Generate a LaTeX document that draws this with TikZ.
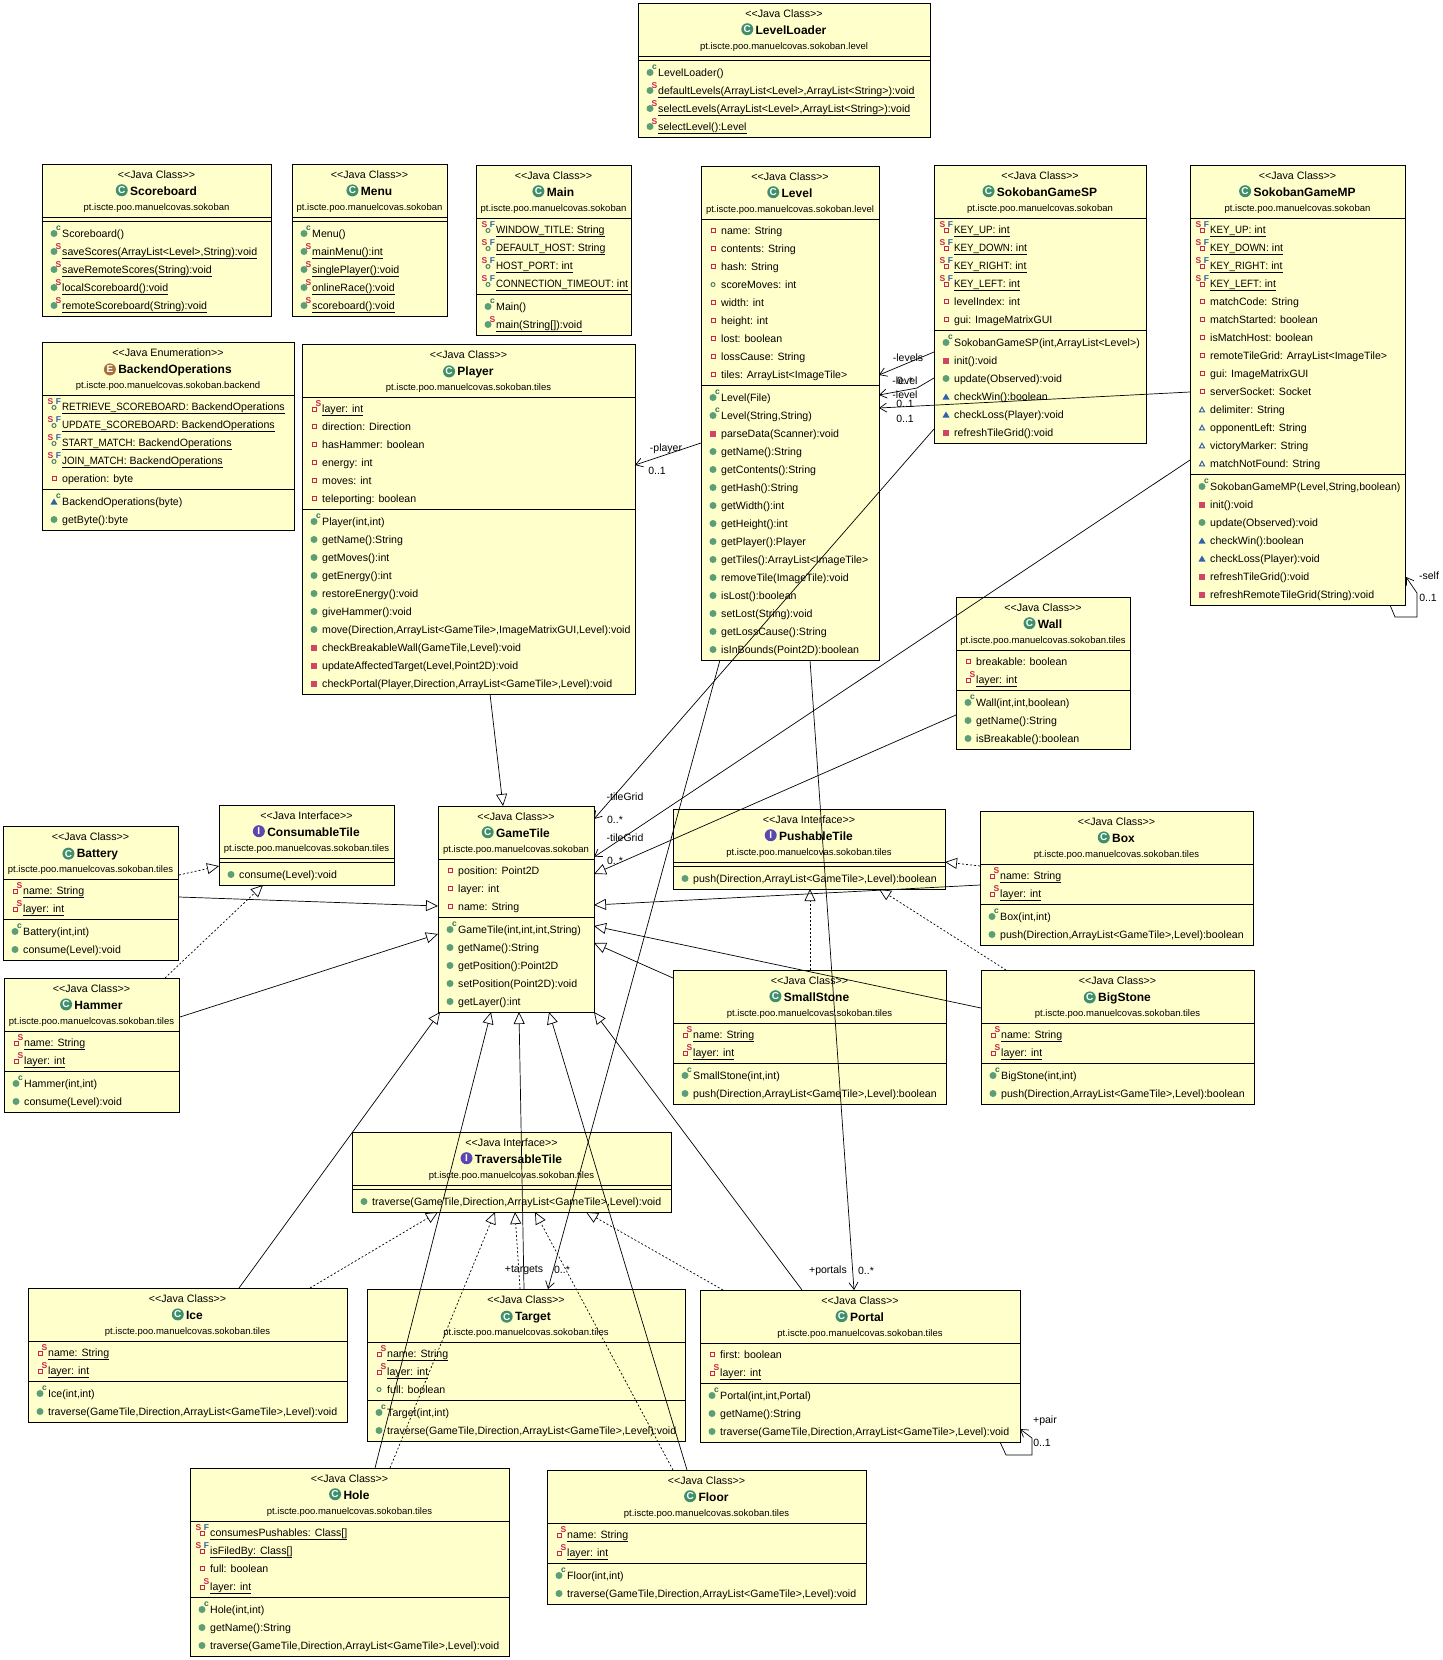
\documentclass[tikz,border=0pt]{standalone}
\usepackage{fontspec}
\setmainfont{Liberation Sans}
\usetikzlibrary{positioning,arrows.meta}

\definecolor{umlyellow}{HTML}{FFFFCC}
\definecolor{pubgreen}{HTML}{5C9E78}
\definecolor{privred}{HTML}{C8254C}
\definecolor{protblue}{HTML}{2F62A8}
\definecolor{classgreen}{HTML}{3F8F6C}
\definecolor{ifacepurple}{HTML}{5A48B0}
\definecolor{enumbrown}{HTML}{A86F3E}

\tikzset{
  classbox/.style={draw=black, fill=umlyellow, line width=0.9pt, anchor=north west, inner sep=0pt, outer sep=0pt},
  stereotext/.style={anchor=base, inner sep=0pt, font=\fontsize{10.7}{12}\selectfont},
  titletext/.style={anchor=base, inner sep=0pt, font=\bfseries\fontsize{12}{14}\selectfont},
  pkgtext/.style={anchor=base, inner sep=0pt, font=\fontsize{9.5}{11}\selectfont},
  rowtext/.style={anchor=base west, inner sep=0pt, font=\fontsize{10.6}{13}\selectfont},
  typeicon/.style={circle, inner sep=0pt, minimum size=12pt, text=white, font=\bfseries\fontsize{10}{10}\selectfont},
  supmark/.style={inner sep=0pt, font=\bfseries\fontsize{8.5}{9}\selectfont},
  edgelabel/.style={inner sep=0pt, font=\fontsize{10.5}{12}\selectfont},
  extends/.style={line width=0.7pt, -{Triangle[open,length=12pt,width=11pt]}},
  implements/.style={line width=0.7pt, dash pattern=on 2pt off 2pt, -{Triangle[open,length=12pt,width=11pt]}},
  assoc/.style={line width=0.7pt, -{Straight Barb[length=7pt,width=9pt]}},
}

% text of static members is underlined
\newcommand{\rowfmt}[1]{#1}
\newcommand{\ultext}[1]{\setbox0\hbox{#1}\rlap{\raisebox{-3pt}{\rule{\wd0}{0.8pt}}}\box0}
% constants are set a bit narrower
\newcommand{\capsname}[1]{{\addfontfeature{FakeStretch=0.92}#1}}

% one mark per member kind, drawn round (12,0) of the row
\newcommand{\markpm}{\fill[pubgreen] (12,0.5) circle[radius=3.5pt];}
\newcommand{\markcm}{\markpm\node[supmark,text=classgreen!80!black] (\rowid-c) at (16.5,-4.5) {c};}
\newcommand{\marksm}{\markpm\node[supmark,text=privred] (\rowid-s) at (16.5,-4.5) {S};\let\rowfmt\ultext}
\newcommand{\markxm}{\fill[privred!85!white] (9,-2.5) rectangle (15,3.5);}
\newcommand{\markhm}{\fill[protblue] (8.5,3.5) -- (15.5,3.5) -- (12,-2.5) -- cycle;}
\newcommand{\marktc}{\markhm\node[supmark,text=classgreen!80!black] (\rowid-c) at (16.5,-4.5) {c};}
\newcommand{\markpf}{\draw[pubgreen!80!black,line width=1pt] (12,0.5) circle[radius=2pt];}
\newcommand{\markxf}{\draw[privred,line width=1pt] (10,-1.5) rectangle (14,2.5);}
\newcommand{\markdf}{\draw[protblue,line width=1pt] (9.5,2.8) -- (14.5,2.8) -- (12,-1.8) -- cycle;}
\newcommand{\marksf}{\draw[privred,line width=1pt] (10,-0.5) rectangle (14,3.5);\node[supmark,text=privred] (\rowid-s) at (16.5,-4.5) {S};\let\rowfmt\ultext}
\newcommand{\markff}{\draw[pubgreen!80!black,line width=1pt] (12,1.5) circle[radius=2pt];\node[supmark,text=privred] (\rowid-s) at (8.5,-4.5) {S};\node[supmark,text=protblue] (\rowid-f) at (16.5,-4.5) {F};\let\rowfmt\ultext}
\newcommand{\markkf}{\draw[privred,line width=1pt] (10,-0.5) rectangle (14,3.5);\node[supmark,text=privred] (\rowid-s) at (8.5,-4.5) {S};\node[supmark,text=protblue] (\rowid-f) at (16.5,-4.5) {F};\let\rowfmt\ultext}

% name, left, top, right, number of fields, number of methods
\newcommand{\umlbox}[6]{%
  \pgfmathsetlengthmacro{\boxw}{(#4-#2)*1pt}
  \pgfmathsetlengthmacro{\boxh}{(62+18*#5+18*#6)*1pt}
  \pgfmathsetmacro{\lineb}{57+18*#5}
  \node[classbox, minimum width=\boxw, minimum height=\boxh] (#1) at (#2,#3) {};
  \draw[line width=0.9pt] ([shift={(0,53)}]#1.north west) -- ([shift={(0,53)}]#1.north east);
  \draw[line width=0.9pt] ([shift={(0,\lineb)}]#1.north west) -- ([shift={(0,\lineb)}]#1.north east);
}
% name, stereotype, icon letter, icon colour, class name, package
\newcommand{\umlhead}[6]{%
  \node[stereotext] (#1-stereo) at ([shift={(0,14.5)}]#1.north) {<{}<Java #2>{}>};
  \node[titletext] (#1-title) at ([shift={(7,31)}]#1.north) {#5};
  \node[typeicon, fill=#4, left=2pt of #1-title.west, yshift=0.5pt] (#1-icon) {#3};
  \node[pkgtext] (#1-pkg) at ([shift={(0,46.5)}]#1.north) {#6};
}
% name, first row below the top, list of kind/text
\newcommand{\umlrows}[3]{%
  \begin{scope}[shift={(#1.north west)}]
    \foreach \kind/\txt [count=\i from 0] in {#3} {
      \begin{scope}[shift={(0,{#2+18*\i})}]
        \edef\rowid{#1-#2-\i}
        \csname mark\kind\endcsname
        \node[rowtext] (\rowid) at (20,4.7) {\rowfmt{\txt}};
      \end{scope}
    }
  \end{scope}}

\begin{document}
\begin{tikzpicture}[x=1pt, y=-1pt]
  \useasboundingbox (0,0) rectangle (1443,1660);

  % level package and game classes
  \umlbox{levelloader}{638}{3}{930}{0}{4}
  \umlhead{levelloader}{Class}{C}{classgreen}{LevelLoader}{pt.iscte.poo.manuelcovas.sokoban.level}
  \umlrows{levelloader}{69}{cm/{LevelLoader()}, sm/{defaultLevels(ArrayList<Level>,ArrayList<String>):void}, sm/{selectLevels(ArrayList<Level>,ArrayList<String>):void}, sm/{selectLevel():Level}}

  \umlbox{scoreboard}{42}{164}{271}{0}{5}
  \umlhead{scoreboard}{Class}{C}{classgreen}{Scoreboard}{pt.iscte.poo.manuelcovas.sokoban}
  \umlrows{scoreboard}{69}{cm/{Scoreboard()}, sm/{saveScores(ArrayList<Level>,String):void}, sm/{saveRemoteScores(String):void}, sm/{localScoreboard():void}, sm/{remoteScoreboard(String):void}}

  \umlbox{menu}{292}{164}{447}{0}{5}
  \umlhead{menu}{Class}{C}{classgreen}{Menu}{pt.iscte.poo.manuelcovas.sokoban}
  \umlrows{menu}{69}{cm/{Menu()}, sm/{mainMenu():int}, sm/{singlePlayer():void}, sm/{onlineRace():void}, sm/{scoreboard():void}}

  \umlbox{main}{476}{165}{631}{4}{2}
  \umlhead{main}{Class}{C}{classgreen}{Main}{pt.iscte.poo.manuelcovas.sokoban}
  \umlrows{main}{64}{ff/{\capsname{WINDOW\_TITLE}: String}, ff/{\capsname{DEFAULT\_HOST}: String}, ff/{\capsname{HOST\_PORT}: int}, ff/{\capsname{CONNECTION\_TIMEOUT}: int}}
  \umlrows{main}{141}{cm/{Main()}, sm/{main(String[]):void}}

  \umlbox{level}{701}{166}{879}{9}{15}
  \umlhead{level}{Class}{C}{classgreen}{Level}{pt.iscte.poo.manuelcovas.sokoban.level}
  \umlrows{level}{64}{xf/{name: String}, xf/{contents: String}, xf/{hash: String}, pf/{scoreMoves: int}, xf/{width: int}, xf/{height: int}, xf/{lost: boolean}, xf/{lossCause: String}, xf/{tiles: ArrayList<ImageTile>}}
  \umlrows{level}{231}{cm/{Level(File)}, cm/{Level(String,String)}, xm/{parseData(Scanner):void}, pm/{getName():String}, pm/{getContents():String}, pm/{getHash():String}, pm/{getWidth():int}, pm/{getHeight():int}, pm/{getPlayer():Player}, pm/{getTiles():ArrayList<ImageTile>}, pm/{removeTile(ImageTile):void}, pm/{isLost():boolean}, pm/{setLost(String):void}, pm/{getLossCause():String}, pm/{isInBounds(Point2D):boolean}}

  \umlbox{sokobansp}{934}{165}{1146}{6}{6}
  \umlhead{sokobansp}{Class}{C}{classgreen}{SokobanGameSP}{pt.iscte.poo.manuelcovas.sokoban}
  \umlrows{sokobansp}{64}{kf/{\capsname{KEY\_UP}: int}, kf/{\capsname{KEY\_DOWN}: int}, kf/{\capsname{KEY\_RIGHT}: int}, kf/{\capsname{KEY\_LEFT}: int}, xf/{levelIndex: int}, xf/{gui: ImageMatrixGUI}}
  \umlrows{sokobansp}{177}{cm/{SokobanGameSP(int,ArrayList<Level>)}, xm/{init():void}, pm/{update(Observed):void}, hm/{checkWin():boolean}, hm/{checkLoss(Player):void}, xm/{refreshTileGrid():void}}

  \umlbox{sokobanmp}{1190}{165}{1405}{14}{7}
  \umlhead{sokobanmp}{Class}{C}{classgreen}{SokobanGameMP}{pt.iscte.poo.manuelcovas.sokoban}
  \umlrows{sokobanmp}{64}{kf/{\capsname{KEY\_UP}: int}, kf/{\capsname{KEY\_DOWN}: int}, kf/{\capsname{KEY\_RIGHT}: int}, kf/{\capsname{KEY\_LEFT}: int}, xf/{matchCode: String}, xf/{matchStarted: boolean}, xf/{isMatchHost: boolean}, xf/{remoteTileGrid: ArrayList<ImageTile>}, xf/{gui: ImageMatrixGUI}, xf/{serverSocket: Socket}, df/{delimiter: String}, df/{opponentLeft: String}, df/{victoryMarker: String}, df/{matchNotFound: String}}
  \umlrows{sokobanmp}{321}{cm/{SokobanGameMP(Level,String,boolean)}, xm/{init():void}, pm/{update(Observed):void}, hm/{checkWin():boolean}, hm/{checkLoss(Player):void}, xm/{refreshTileGrid():void}, xm/{refreshRemoteTileGrid(String):void}}

  \umlbox{backendops}{42}{342}{294}{5}{2}
  \umlhead{backendops}{Enumeration}{E}{enumbrown}{BackendOperations}{pt.iscte.poo.manuelcovas.sokoban.backend}
  \umlrows{backendops}{64}{ff/{\capsname{RETRIEVE\_SCOREBOARD}: BackendOperations}, ff/{\capsname{UPDATE\_SCOREBOARD}: BackendOperations}, ff/{\capsname{START\_MATCH}: BackendOperations}, ff/{\capsname{JOIN\_MATCH}: BackendOperations}, xf/{operation: byte}}
  \umlrows{backendops}{159}{tc/{BackendOperations(byte)}, pm/{getByte():byte}}

  \umlbox{player}{302}{344}{635}{6}{10}
  \umlhead{player}{Class}{C}{classgreen}{Player}{pt.iscte.poo.manuelcovas.sokoban.tiles}
  \umlrows{player}{64}{sf/{layer: int}, xf/{direction: Direction}, xf/{hasHammer: boolean}, xf/{energy: int}, xf/{moves: int}, xf/{teleporting: boolean}}
  \umlrows{player}{177}{cm/{Player(int,int)}, pm/{getName():String}, pm/{getMoves():int}, pm/{getEnergy():int}, pm/{restoreEnergy():void}, pm/{giveHammer():void}, pm/{move(Direction,ArrayList<GameTile>,ImageMatrixGUI,Level):void}, xm/{checkBreakableWall(GameTile,Level):void}, xm/{updateAffectedTarget(Level,Point2D):void}, xm/{checkPortal(Player,Direction,ArrayList<GameTile>,Level):void}}

  % tiles
  \umlbox{wall}{956}{597}{1130}{2}{3}
  \umlhead{wall}{Class}{C}{classgreen}{Wall}{pt.iscte.poo.manuelcovas.sokoban.tiles}
  \umlrows{wall}{64}{xf/{breakable: boolean}, sf/{layer: int}}
  \umlrows{wall}{105}{cm/{Wall(int,int,boolean)}, pm/{getName():String}, pm/{isBreakable():boolean}}

  \umlbox{gametile}{438}{806}{594}{3}{5}
  \umlhead{gametile}{Class}{C}{classgreen}{GameTile}{pt.iscte.poo.manuelcovas.sokoban}
  \umlrows{gametile}{64}{xf/{position: Point2D}, xf/{layer: int}, xf/{name: String}}
  \umlrows{gametile}{123}{cm/{GameTile(int,int,int,String)}, pm/{getName():String}, pm/{getPosition():Point2D}, pm/{setPosition(Point2D):void}, pm/{getLayer():int}}

  \umlbox{battery}{3}{826}{178}{2}{2}
  \umlhead{battery}{Class}{C}{classgreen}{Battery}{pt.iscte.poo.manuelcovas.sokoban.tiles}
  \umlrows{battery}{64}{sf/{name: String}, sf/{layer: int}}
  \umlrows{battery}{105}{cm/{Battery(int,int)}, pm/{consume(Level):void}}

  \umlbox{consumable}{219}{805}{394}{0}{1}
  \umlhead{consumable}{Interface}{I}{ifacepurple}{ConsumableTile}{pt.iscte.poo.manuelcovas.sokoban.tiles}
  \umlrows{consumable}{69}{pm/{consume(Level):void}}

  \umlbox{hammer}{4}{978}{179}{2}{2}
  \umlhead{hammer}{Class}{C}{classgreen}{Hammer}{pt.iscte.poo.manuelcovas.sokoban.tiles}
  \umlrows{hammer}{64}{sf/{name: String}, sf/{layer: int}}
  \umlrows{hammer}{105}{cm/{Hammer(int,int)}, pm/{consume(Level):void}}

  \umlbox{pushable}{673}{809}{945}{0}{1}
  \umlhead{pushable}{Interface}{I}{ifacepurple}{PushableTile}{pt.iscte.poo.manuelcovas.sokoban.tiles}
  \umlrows{pushable}{69}{pm/{push(Direction,ArrayList<GameTile>,Level):boolean}}

  \umlbox{box}{980}{811}{1253}{2}{2}
  \umlhead{box}{Class}{C}{classgreen}{Box}{pt.iscte.poo.manuelcovas.sokoban.tiles}
  \umlrows{box}{64}{sf/{name: String}, sf/{layer: int}}
  \umlrows{box}{105}{cm/{Box(int,int)}, pm/{push(Direction,ArrayList<GameTile>,Level):boolean}}

  \umlbox{smallstone}{673}{970}{946}{2}{2}
  \umlhead{smallstone}{Class}{C}{classgreen}{SmallStone}{pt.iscte.poo.manuelcovas.sokoban.tiles}
  \umlrows{smallstone}{64}{sf/{name: String}, sf/{layer: int}}
  \umlrows{smallstone}{105}{cm/{SmallStone(int,int)}, pm/{push(Direction,ArrayList<GameTile>,Level):boolean}}

  \umlbox{bigstone}{981}{970}{1254}{2}{2}
  \umlhead{bigstone}{Class}{C}{classgreen}{BigStone}{pt.iscte.poo.manuelcovas.sokoban.tiles}
  \umlrows{bigstone}{64}{sf/{name: String}, sf/{layer: int}}
  \umlrows{bigstone}{105}{cm/{BigStone(int,int)}, pm/{push(Direction,ArrayList<GameTile>,Level):boolean}}

  \umlbox{traversable}{352}{1132}{671}{0}{1}
  \umlhead{traversable}{Interface}{I}{ifacepurple}{TraversableTile}{pt.iscte.poo.manuelcovas.sokoban.tiles}
  \umlrows{traversable}{69}{pm/{traverse(GameTile,Direction,ArrayList<GameTile>,Level):void}}

  \umlbox{ice}{28}{1288}{347}{2}{2}
  \umlhead{ice}{Class}{C}{classgreen}{Ice}{pt.iscte.poo.manuelcovas.sokoban.tiles}
  \umlrows{ice}{64}{sf/{name: String}, sf/{layer: int}}
  \umlrows{ice}{105}{cm/{Ice(int,int)}, pm/{traverse(GameTile,Direction,ArrayList<GameTile>,Level):void}}

  \umlbox{target}{367}{1289}{685}{3}{2}
  \umlhead{target}{Class}{C}{classgreen}{Target}{pt.iscte.poo.manuelcovas.sokoban.tiles}
  \umlrows{target}{64}{sf/{name: String}, sf/{layer: int}, pf/{full: boolean}}
  \umlrows{target}{123}{cm/{Target(int,int)}, pm/{traverse(GameTile,Direction,ArrayList<GameTile>,Level):void}}

  \umlbox{portal}{700}{1290}{1020}{2}{3}
  \umlhead{portal}{Class}{C}{classgreen}{Portal}{pt.iscte.poo.manuelcovas.sokoban.tiles}
  \umlrows{portal}{64}{xf/{first: boolean}, sf/{layer: int}}
  \umlrows{portal}{105}{cm/{Portal(int,int,Portal)}, pm/{getName():String}, pm/{traverse(GameTile,Direction,ArrayList<GameTile>,Level):void}}

  \umlbox{hole}{190}{1468}{509}{4}{3}
  \umlhead{hole}{Class}{C}{classgreen}{Hole}{pt.iscte.poo.manuelcovas.sokoban.tiles}
  \umlrows{hole}{64}{kf/{consumesPushables: Class[]}, kf/{isFiledBy: Class[]}, xf/{full: boolean}, sf/{layer: int}}
  \umlrows{hole}{141}{cm/{Hole(int,int)}, pm/{getName():String}, pm/{traverse(GameTile,Direction,ArrayList<GameTile>,Level):void}}

  \umlbox{floor}{547}{1470}{866}{2}{2}
  \umlhead{floor}{Class}{C}{classgreen}{Floor}{pt.iscte.poo.manuelcovas.sokoban.tiles}
  \umlrows{floor}{64}{sf/{name: String}, sf/{layer: int}}
  \umlrows{floor}{105}{cm/{Floor(int,int)}, pm/{traverse(GameTile,Direction,ArrayList<GameTile>,Level):void}}

  % associations
  \draw[assoc] ([shift={(0,187)}]sokobansp.north west) -- ([shift={(0,209)}]level.north east);
  \draw[assoc] ([shift={(0,213)}]sokobansp.north west) -- ([shift={(-17,223)}]sokobansp.north west) -- ([shift={(0,229)}]level.north east);
  \draw[assoc] ([shift={(0,227)}]sokobanmp.north west) -- ([shift={(0,242)}]level.north east);
  \draw[assoc] ([shift={(0,277)}]level.north west) -- ([shift={(0,121)}]player.north east);
  \draw[assoc] ([shift={(0,264)}]sokobansp.north west) -- ([shift={(0,13)}]gametile.north east);
  \draw[assoc] ([shift={(0,295)}]sokobanmp.north west) -- ([shift={(0,51)}]gametile.north east);
  \draw[assoc] ([shift={(19,0)}]level.south west) -- ([shift={(181,0)}]target.north west);
  \draw[assoc] ([shift={(109,0)}]level.south west) -- ([shift={(154,0)}]portal.north west);
  \draw[assoc] ([shift={(-15,0)}]sokobanmp.south east) -- ([shift={(-10,12)}]sokobanmp.south east) -- ([shift={(12,12)}]sokobanmp.south east) -- ([shift={(12,-12)}]sokobanmp.south east) -- ([shift={(1,-28)}]sokobanmp.south east);
  \draw[assoc] ([shift={(-20,0)}]portal.south east) -- ([shift={(-14,13)}]portal.south east) -- ([shift={(12,13)}]portal.south east) -- ([shift={(12,-4)}]portal.south east) -- ([shift={(0,-13)}]portal.south east);

  % subclasses of GameTile
  \draw[extends] ([shift={(188,0)}]player.south west) -- ([shift={(65,0)}]gametile.north west);
  \draw[extends] ([shift={(0,118)}]wall.north west) -- ([shift={(0,68)}]gametile.north east);
  \draw[extends] ([shift={(1,71)}]battery.north east) -- ([shift={(0,100)}]gametile.north west);
  \draw[extends] ([shift={(1,39)}]hammer.north east) -- ([shift={(0,128)}]gametile.north west);
  \draw[extends] ([shift={(211,0)}]ice.north west) -- ([shift={(2,0)}]gametile.south west);
  \draw[extends] ([shift={(185,0)}]hole.north west) -- ([shift={(53,0)}]gametile.south west);
  \draw[extends] ([shift={(157,0)}]target.north west) -- ([shift={(81,0)}]gametile.south west);
  \draw[extends] ([shift={(140,0)}]floor.north west) -- ([shift={(111,0)}]gametile.south west);
  \draw[extends] ([shift={(102,0)}]portal.north west) -- (gametile.south east);
  \draw[extends] ([shift={(0,74)}]box.north west) -- ([shift={(0,99)}]gametile.north east);
  \draw[extends] ([shift={(0,8)}]smallstone.north west) -- ([shift={(0,137)}]gametile.north east);
  \draw[extends] ([shift={(0,38)}]bigstone.north west) -- ([shift={(0,120)}]gametile.north east);

  % interfaces
  \draw[implements] ([shift={(1,49)}]battery.north east) -- ([shift={(0,61)}]consumable.north west);
  \draw[implements] ([shift={(161,0)}]hammer.north west) -- ([shift={(44,0)}]consumable.south west);
  \draw[implements] ([shift={(0,55)}]box.north west) -- ([shift={(0,53)}]pushable.north east);
  \draw[implements] ([shift={(137,0)}]smallstone.north west) -- ([shift={(137,0)}]pushable.south west);
  \draw[implements] ([shift={(25,0)}]bigstone.north west) -- ([shift={(206,0)}]pushable.south west);
  \draw[implements] ([shift={(282,0)}]ice.north west) -- ([shift={(86,0)}]traversable.south west);
  \draw[implements] ([shift={(200,0)}]hole.north west) -- ([shift={(143,0)}]traversable.south west);
  \draw[implements] ([shift={(153,0)}]target.north west) -- ([shift={(163,0)}]traversable.south west);
  \draw[implements] ([shift={(126,0)}]floor.north west) -- ([shift={(183,0)}]traversable.south west);
  \draw[implements] ([shift={(23,0)}]portal.north west) -- ([shift={(234,0)}]traversable.south west);

  % role names and multiplicities
  \node[edgelabel] (lbl-levels) at (908,358) {-levels};
  \node[edgelabel] (lbl-levels-n) at (905,381) {0..*};
  \node[edgelabel] (lbl-level-sp) at (905,381) {-level};
  \node[edgelabel] (lbl-level-sp-n) at (905,404) {0..1};
  \node[edgelabel] (lbl-level-mp) at (905,395) {-level};
  \node[edgelabel] (lbl-level-mp-n) at (905,419) {0..1};
  \node[edgelabel] (lbl-player) at (666,449) {-player};
  \node[edgelabel] (lbl-player-n) at (657,471) {0..1};
  \node[edgelabel] (lbl-grid-sp) at (625,797) {-tileGrid};
  \node[edgelabel] (lbl-grid-sp-n) at (615,820) {0..*};
  \node[edgelabel] (lbl-grid-mp) at (625,838) {-tileGrid};
  \node[edgelabel] (lbl-grid-mp-n) at (615,861) {0..*};
  \node[edgelabel] (lbl-targets) at (524,1270) {+targets};
  \node[edgelabel] (lbl-targets-n) at (562,1270) {0..*};
  \node[edgelabel] (lbl-portals) at (828,1271) {+portals};
  \node[edgelabel] (lbl-portals-n) at (866,1271) {0..*};
  \node[edgelabel] (lbl-self) at (1429,576) {-self};
  \node[edgelabel] (lbl-self-n) at (1428,598) {0..1};
  \node[edgelabel] (lbl-pair) at (1045,1421) {+pair};
  \node[edgelabel] (lbl-pair-n) at (1042,1443) {0..1};
\end{tikzpicture}
\end{document}
